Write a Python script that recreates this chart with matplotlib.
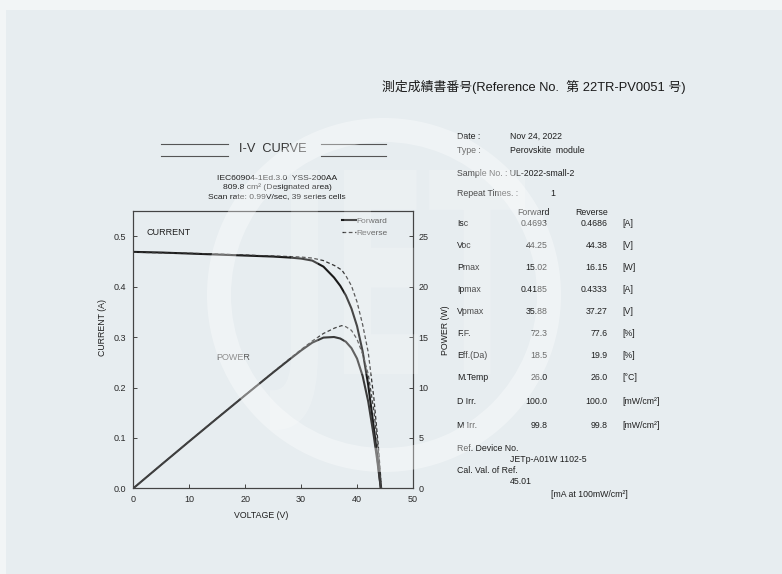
import matplotlib.pyplot as plt
from matplotlib.patches import Wedge, PathPatch, Rectangle
from matplotlib.textpath import TextPath
from matplotlib.font_manager import FontProperties
from matplotlib.transforms import Affine2D
from matplotlib.lines import Line2D

plt.rcParams['font.family'] = ['Liberation Sans', 'Noto Sans CJK JP', 'DejaVu Sans']

W, H = 782, 574

# forward sweep
v_fwd = [0, 5, 10, 15, 20, 25, 28, 30, 32, 34, 35.88, 37, 38, 39, 40, 41, 42, 43, 43.6, 44.25]
i_fwd = [0.4693, 0.468, 0.466, 0.464, 0.462, 0.460, 0.458, 0.456, 0.452, 0.440, 0.4185,
         0.402, 0.383, 0.357, 0.322, 0.272, 0.205, 0.120, 0.065, 0.0]
p_fwd = [0.0, 2.34, 4.66, 6.96, 9.24, 11.50, 12.82, 13.68, 14.46, 14.96, 15.02,
         14.87, 14.55, 13.92, 12.88, 11.15, 8.61, 5.16, 2.83, 0.0]

# reverse sweep
v_rev = [0, 5, 10, 15, 20, 25, 28, 30, 32, 34, 36, 37.27, 38, 39, 40, 41, 42, 43, 43.8, 44.38]
i_rev = [0.4686, 0.4675, 0.4665, 0.465, 0.463, 0.461, 0.460, 0.459, 0.457, 0.452, 0.442,
         0.4333, 0.422, 0.402, 0.370, 0.325, 0.270, 0.180, 0.085, 0.0]
p_rev = [0.0, 2.34, 4.67, 6.98, 9.26, 11.53, 12.88, 13.77, 14.62, 15.37, 15.91,
         16.15, 16.04, 15.68, 14.80, 13.33, 11.34, 7.74, 3.72, 0.0]

v_ticks = [0, 10, 20, 30, 40, 50]
i_ticks = [0.0, 0.1, 0.2, 0.3, 0.4, 0.5]
p_ticks = [0, 5, 10, 15, 20, 25]

# measurement summary
params = ['Isc', 'Voc', 'Pmax', 'Ipmax', 'Vpmax', 'F.F.', 'Eff.(Da)', 'M.Temp', 'D Irr.', 'M Irr.']
fwd_vals = ['0.4693', '44.25', '15.02', '0.4185', '35.88', '72.3', '18.5', '26.0', '100.0', '99.8']
rev_vals = ['0.4686', '44.38', '16.15', '0.4333', '37.27', '77.6', '19.9', '26.0', '100.0', '99.8']
units = ['[A]', '[V]', '[W]', '[A]', '[V]', '[%]', '[%]', '[°C]', '[mW/cm²]', '[mW/cm²]']
row_y = [223.4, 245.8, 267.8, 289.7, 311.7, 333.7, 355.7, 377.7, 401.0, 425.0]


def px(x, y):
    return x / W, 1 - y / H


fig = plt.figure(figsize=(W / 100, H / 100), dpi=100, facecolor='#e7edf0')
fig.patches.append(Rectangle((0, 1 - 10 / H), 1, 10 / H, transform=fig.transFigure,
                             facecolor='#f2f5f6', edgecolor='none', zorder=0))
fig.patches.append(Rectangle((0, 0), 6 / W, 1, transform=fig.transFigure,
                             facecolor='#f2f5f6', edgecolor='none', zorder=0))

ax = fig.add_axes([133.2 / W, 1 - 488.4 / H, 279.8 / W, 277.2 / H])
ax.set_facecolor('none')
ax2 = ax.twinx()

ink = '#1f1f1f'
ax.plot(v_fwd, i_fwd, color='#1a1a1a', lw=1.5, label='Forward')
ax.plot(v_rev, i_rev, color='#333333', lw=0.9, dashes=(3, 2), label='Reverse')
ax2.plot(v_fwd, p_fwd, color='#3a3a3a', lw=1.5)
ax2.plot(v_rev, p_rev, color='#444444', lw=0.9, dashes=(3, 2))

ax.set_xlim(0, 50)
ax.set_ylim(0, 0.55)
ax2.set_ylim(0, 27.5)
ax.set_xticks(v_ticks)
ax.set_yticks(i_ticks)
ax.set_yticklabels([f'{t:.1f}' for t in i_ticks])
ax2.set_yticks(p_ticks)

for a in (ax, ax2):
    for s in a.spines.values():
        s.set_color('#444444')
        s.set_linewidth(0.8)
ax.tick_params(direction='in', length=3, width=0.7, color='#444444', labelsize=6.5,
               labelcolor='#2a2a2a', pad=5)
ax2.tick_params(direction='in', length=3, width=0.7, color='#444444', labelsize=6.5,
                labelcolor='#2a2a2a', pad=4)

ax.text(2.3, 0.507, 'CURRENT', fontsize=6.5, color=ink, va='center')
ax.text(17.8, 0.259, 'POWER', fontsize=6.5, color='#555555', va='center', ha='center')

leg = ax.legend(loc='upper right', bbox_to_anchor=(0.93, 1.0), frameon=False, fontsize=6,
                handlelength=1.6, handletextpad=0.1, labelspacing=0.5, borderaxespad=0.3)
for t in leg.get_texts():
    t.set_color('#666666')

fig.text(*px(261, 515), 'VOLTAGE (V)', fontsize=6.3, color=ink, ha='center', va='center')
fig.text(*px(103, 328), 'CURRENT (A)', fontsize=6.3, color=ink, ha='center', va='center', rotation=90)
fig.text(*px(445, 330), 'POWER (W)', fontsize=6.3, color=ink, ha='center', va='center', rotation=90)

# heading block above the chart
fig.text(*px(273, 149), 'I-V  CURVE', fontsize=9.2, color='#333333', ha='center', va='center')
for x0, x1 in [(161, 228), (321, 386)]:
    for y in (143.5, 155.5):
        fig.add_artist(Line2D([x0 / W, x1 / W], [1 - y / H, 1 - y / H], color='#555555', lw=0.8))
fig.text(*px(277, 178), 'IEC60904-1Ed.3.0  YSS-200AA', fontsize=6.1, color=ink, ha='center', va='center')
fig.text(*px(277, 187), '809.8 cm² (Designated area)', fontsize=6.1, color=ink, ha='center', va='center')
fig.text(*px(277, 197), 'Scan rate: 0.99V/sec, 39 series cells', fontsize=6.1, color=ink,
         ha='center', va='center')

fig.text(*px(382, 87), '測定成績書番号(Reference No.  第 22TR-PV0051 号)', fontsize=9.25,
         color='#1a1a1a', ha='left', va='center')

# right-hand summary table
fs = 6.3
fig.text(*px(457, 136), 'Date :', fontsize=fs, color=ink, va='center')
fig.text(*px(510, 136), 'Nov 24, 2022', fontsize=fs, color=ink, va='center')
fig.text(*px(457, 151), 'Type :', fontsize=fs, color=ink, va='center')
fig.text(*px(510, 151), 'Perovskite  module', fontsize=fs, color=ink, va='center')
fig.text(*px(457, 173), 'Sample No. : UL-2022-small-2', fontsize=fs, color=ink, va='center')
fig.text(*px(457, 193), 'Repeat Times. :', fontsize=fs, color=ink, va='center')
fig.text(*px(553, 193), '1', fontsize=fs, color=ink, va='center', ha='center')
fig.text(*px(533, 212.8), 'Forward', fontsize=fs, color=ink, va='center', ha='center')
fig.text(*px(591.5, 212.8), 'Reverse', fontsize=fs, color=ink, va='center', ha='center')
for name, fv, rv, u, y in zip(params, fwd_vals, rev_vals, units, row_y):
    fig.text(*px(457, y), name, fontsize=fs, color=ink, va='center')
    fig.text(*px(547.5, y), fv, fontsize=fs, color=ink, va='center', ha='right')
    fig.text(*px(607.5, y), rv, fontsize=fs, color=ink, va='center', ha='right')
    fig.text(*px(622, y), u, fontsize=fs, color=ink, va='center')
fig.text(*px(457, 448.7), 'Ref. Device No.', fontsize=fs, color=ink, va='center')
fig.text(*px(510, 459.7), 'JETp-A01W 1102-5', fontsize=fs, color=ink, va='center')
fig.text(*px(457, 470.7), 'Cal. Val. of Ref.', fontsize=fs, color=ink, va='center')
fig.text(*px(510, 481.3), '45.01', fontsize=fs, color=ink, va='center')
fig.text(*px(551, 494.5), '[mA at 100mW/cm²]', fontsize=fs, color=ink, va='center')

# watermark on top of everything
wm = fig.add_axes([0, 0, 1, 1], zorder=10)
wm.set_xlim(0, W)
wm.set_ylim(H, 0)
wm.axis('off')
wm.patch.set_alpha(0)
wm.add_patch(Wedge((384, 295), 177, 0, 360, width=24, facecolor='white', edgecolor='none', alpha=0.35))
tp = TextPath((0, 0), 'JET', size=100, prop=FontProperties(family='DejaVu Sans', weight='bold'))
bb = tp.get_extents()
sx = (525 - 270) / bb.width
sy = (430 - 170) / bb.height
tr = Affine2D().translate(-bb.x0, -bb.y0).scale(sx, -sy).translate(270, 430)
wm.add_patch(PathPatch(tr.transform_path(tp), facecolor='white', edgecolor='none', alpha=0.2))

fig.savefig('out.png', dpi=100, facecolor=fig.get_facecolor())
